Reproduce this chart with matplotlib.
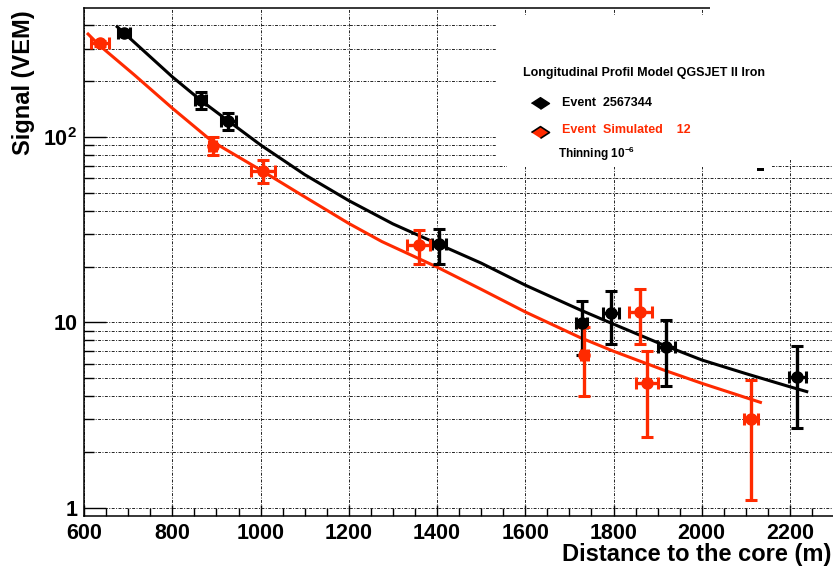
import matplotlib
matplotlib.use('Agg')
import matplotlib.pyplot as plt
from matplotlib.patches import Rectangle
from matplotlib.lines import Line2D
from matplotlib.ticker import LogLocator, MultipleLocator, FuncFormatter, NullFormatter

plt.rcParams['font.family'] = ['Liberation Sans', 'DejaVu Sans']
plt.rcParams['font.weight'] = 'bold'
plt.rcParams['mathtext.fontset'] = 'custom'
plt.rcParams['mathtext.rm'] = 'Liberation Sans:bold'
plt.rcParams['mathtext.bf'] = 'Liberation Sans:bold'
plt.rcParams['mathtext.default'] = 'bf'

# measured event (black)
black_x = [691, 864, 927, 1405, 1728, 1795, 1920, 2217]
black_y = [362, 158, 122, 26.4, 9.9, 11.2, 7.4, 5.1]
black_xerr = [14, 12, 17, 16, 12, 18, 19, 20]
black_yerr = [12, 17, 13, 5.7, 3.2, 3.5, 2.85, 2.4]

# simulated event (red)
red_x = [636, 892, 1006, 1358, 1734, 1861, 1876, 2112]
red_y = [320, 89.8, 65.8, 26.2, 6.7, 11.4, 4.7, 3.0]
red_xerr = [20, 8, 27, 25, 8, 27, 25, 16]
red_yerr = [10, 10, 9.3, 5.5, 2.7, 3.7, 2.3, 1.9]

# fitted LDF curves
black_fit_x = [675, 800, 864, 929, 1000, 1100, 1200, 1300, 1405, 1500, 1600, 1724,
               1800, 1913, 2000, 2100, 2200, 2238]
black_fit_y = [393, 211, 158, 121, 90.6, 62.7, 45.4, 34.0, 26.3, 20.9, 15.9, 11.7,
               9.8, 7.56, 6.28, 5.3, 4.5, 4.24]
red_fit_x = [609, 634, 713, 800, 891, 1000, 1091, 1199, 1275, 1398, 1500, 1600,
             1724, 1800, 1913, 2000, 2133]
red_fit_y = [359, 313, 217, 143, 94.4, 66.4, 49.0, 34.3, 27.3, 20.0, 15.1, 11.4,
             8.3, 7.0, 5.55, 4.70, 3.71]

RED = '#ff2a00'
W, H = 833, 568


def fpos(x, y):
    # pixel position -> figure fraction
    return x / W, 1 - y / H


fig = plt.figure(figsize=(W / 100, H / 100), dpi=100)
ax = fig.add_axes([84.1 / W, (H - 516) / H, 750 / W, 508 / H])
ax.set_yscale('log')
ax.set_xlim(600, 2300)
ax.set_ylim(0.905, 496)
ax.set_axisbelow(True)

grid_kw = dict(color='#222222', linestyle=(0, (3, 1.5, 1, 1.5)), linewidth=0.7)
ax.grid(True, which='both', axis='y', **grid_kw)
ax.grid(True, which='major', axis='x', **grid_kw)

ax.xaxis.set_major_locator(MultipleLocator(200))
ax.xaxis.set_minor_locator(MultipleLocator(50))
ax.yaxis.set_major_locator(LogLocator(base=10))
ax.yaxis.set_minor_locator(LogLocator(base=10, subs=range(2, 10)))
ax.yaxis.set_minor_formatter(NullFormatter())
ylabels = {1: '1', 10: '10', 100: '$10^{2}$'}
ax.yaxis.set_major_formatter(FuncFormatter(lambda v, p: ylabels.get(int(round(v)), '')))

ax.tick_params(axis='x', which='major', direction='in', length=8, width=1, labelsize=15.5, pad=5)
ax.tick_params(axis='x', which='minor', direction='in', length=5.8, width=1)
ax.tick_params(axis='y', which='major', direction='in', length=15.8, width=1, labelsize=15.5, pad=5)
ax.tick_params(axis='y', which='minor', direction='in', length=7, width=1)
for s in ax.spines.values():
    s.set_linewidth(1.1)

ax.plot(black_fit_x, black_fit_y, color='black', lw=2.2, zorder=3)
ax.plot(red_fit_x, red_fit_y, color=RED, lw=2.2, zorder=3)

eb_kw = dict(fmt='o', ms=8, elinewidth=2.4, capsize=4, capthick=2.2, zorder=4)
ax.errorbar(black_x, black_y, xerr=black_xerr, yerr=black_yerr, color='black', **eb_kw)
ax.errorbar(red_x, red_y, xerr=red_xerr, yerr=red_yerr, color=RED, **eb_kw)

# white legend pad (covers grid and part of frame)
for (x0, y0, x1, y1) in [(497, 15, 833, 160), (710, 0, 833, 15), (507, 160, 772, 167)]:
    fig.add_artist(Rectangle(fpos(x0, y1), (x1 - x0) / W, (y1 - y0) / H,
                             transform=fig.transFigure, facecolor='white',
                             edgecolor='none', zorder=1))
fig.add_artist(Rectangle(fpos(757, 171), 7 / W, 3 / H, transform=fig.transFigure,
                         facecolor='black', edgecolor='none', zorder=2))

diamond = [(-1, 0), (0, 0.65), (1, 0), (0, -0.65)]
fig.text(*fpos(523, 73), 'Longitudinal Profil Model QGSJET II Iron', fontsize=9,
         ha='left', va='center', zorder=3)
fig.add_artist(Line2D([540 / W], [1 - 103 / H], marker=diamond, ms=13, color='black',
                      transform=fig.transFigure, zorder=3))
fig.add_artist(Line2D([540 / W], [1 - 132 / H], marker=diamond, ms=13, markerfacecolor=RED,
                      markeredgecolor='black', markeredgewidth=1.2,
                      transform=fig.transFigure, zorder=3))
fig.text(*fpos(562, 103), 'Event  2567344', fontsize=9, ha='left', va='center', zorder=3)
fig.text(*fpos(562, 130), 'Event  Simulated    12', fontsize=9, color=RED,
         ha='left', va='center', zorder=3)
fig.text(*fpos(558, 154), 'Thinning 10$^{-6}$', fontsize=8.5, ha='left', va='center', zorder=3)

fig.text(*fpos(23.5, 83), 'Signal (VEM)', fontsize=17, rotation=90, ha='center', va='center')
fig.text(*fpos(831, 555), 'Distance to the core (m)', fontsize=17, ha='right', va='center')

fig.savefig('out.png', dpi=100)
